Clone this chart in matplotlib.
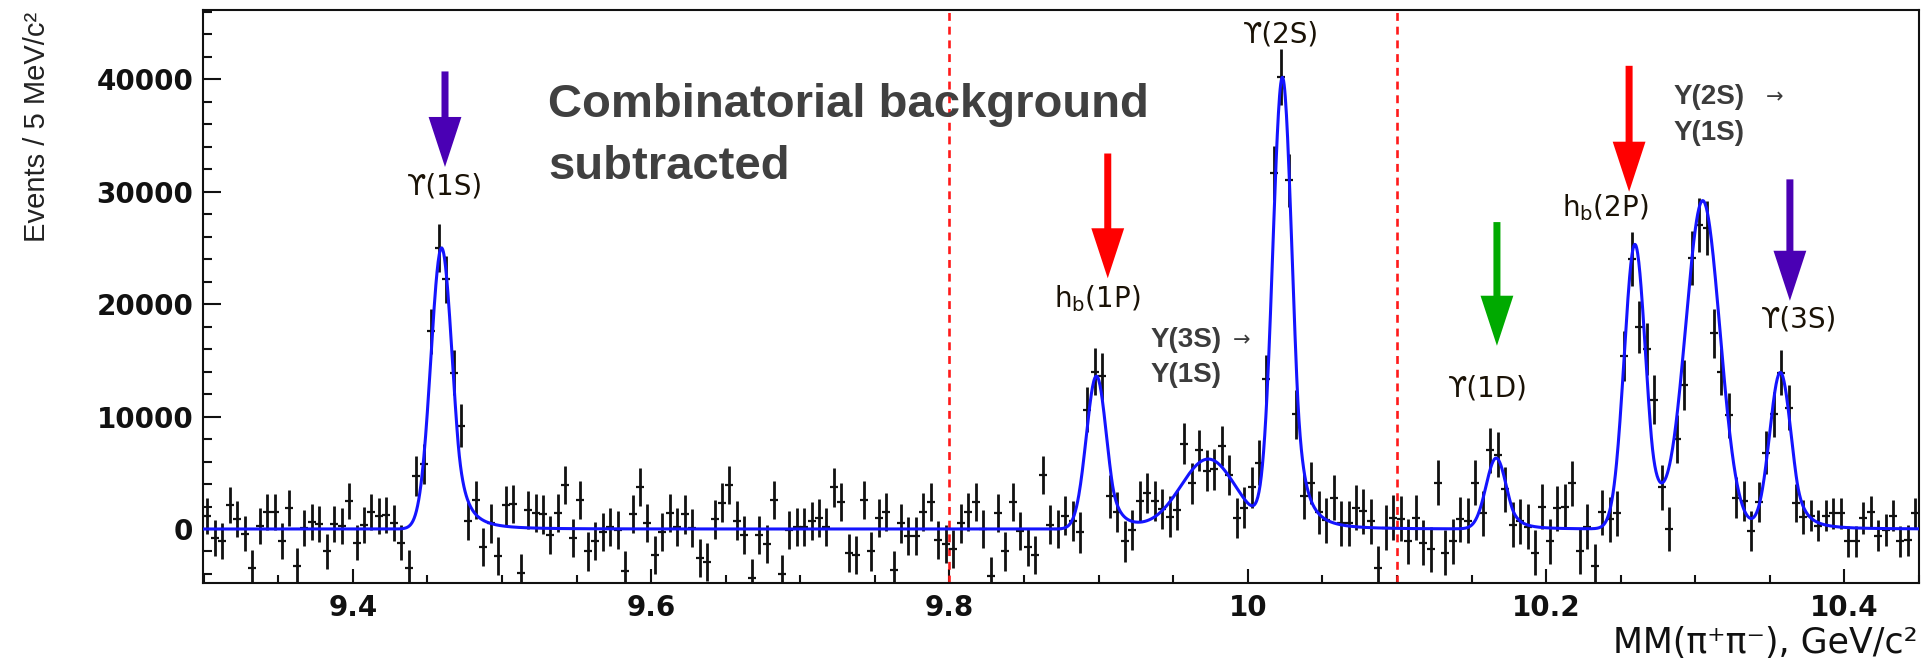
import numpy as np
import matplotlib
matplotlib.use("Agg")
import matplotlib.pyplot as plt
from matplotlib.patches import FancyArrow
from matplotlib.ticker import MultipleLocator, FuncFormatter

# histogram binning (5 MeV bins)
bin_lo, bin_hi, bin_width = 9.30, 10.45, 0.005

# events per bin (combinatorial background subtracted)
events = [
    1200, -800, -1100, 2100, 900, -400, -3500, 300, 1500, 1500,
    -1100, 1900, -3300, 100, 650, 450, -2000, 450, 300, 2500,
    -1200, 350, 1500, 1200, 1250, 500, -1200, -3500, 4700, 5800,
    17600, 25000, 22200, 13900, 9200, 700, 2600, -1600, 500, -2400,
    2100, 2200, -3900, 1700, 1400, 1300, -500, 1400, 3900, -800,
    2550, -2000, -1100, -300, 200, -100, -3700, 1350, 3750, 550,
    -2300, -250, 1400, 200, 1300, 100, -2600, -2950, 850, 2350,
    3900, 750, -500, -4400, -500, -1300, 2550, -4000, -100, 200,
    200, 700, 1000, 200, 3700, 2400, -2150, -2300, 2550, -2000,
    1000, 1500, -3650, 500, -650, -650, 1500, 2400, -1000, -1300,
    -1800, 500, 1500, 2400, 0, -4150, 1400, -2000, 2400, -200,
    -1600, -2300, 4800, 400, 0, 1200, 700, -300, 10600, 14000,
    13600, 2900, 1500, -1100, -100, 2500, 3200, 2500, 1800, 1100,
    1700, 7600, 4050, 7000, 5200, 5300, 7400, 4800, 1000, 1900,
    3700, 5900, 13300, 31700, 40200, 31000, 10200, 2900, 4100, 1500,
    800, 2800, 500, 500, 1900, 1600, 700, -3500, 100, 1000,
    900, -1100, 1000, -1200, -1800, 4100, -2100, -1100, 850, 750,
    4100, 1400, 7000, 6600, 3550, 400, 700, 200, -2100, 2000,
    -1100, 1850, 2000, 4050, -2000, 200, -3300, 1500, 850, 1400,
    15400, 24000, 18000, 16000, 11500, 3700, 0, 8000, 12800, 24100,
    27000, 26800, 17400, 14000, 10100, 2800, 2500, -200, 2400, 6800,
    10200, 13900, 10800, 2300, 1100, 1200, 300, 1200, 1400, 1400,
    -1100, -1100, 1000, 1500, -600, -100, 1200, -1100, -1000, 1400,
]

errors = [
    1600, 1600, 1600, 1600, 1600, 1600, 1600, 1600, 1600, 1600,
    1600, 1600, 1600, 1600, 1600, 1600, 1600, 1600, 1600, 1600,
    1600, 1600, 1600, 1600, 1600, 1600, 1600, 1600, 1800, 1800,
    2000, 2100, 2100, 2000, 1900, 1700, 1700, 1700, 1700, 1700,
    1700, 1700, 1700, 1700, 1700, 1700, 1700, 1700, 1700, 1700,
    1700, 1700, 1700, 1700, 1700, 1700, 1700, 1700, 1700, 1700,
    1700, 1700, 1700, 1700, 1700, 1700, 1700, 1700, 1700, 1700,
    1700, 1700, 1700, 1700, 1700, 1700, 1700, 1700, 1700, 1700,
    1700, 1700, 1700, 1700, 1700, 1700, 1700, 1700, 1700, 1700,
    1700, 1700, 1700, 1700, 1700, 1700, 1700, 1700, 1700, 1700,
    1700, 1700, 1700, 1700, 1700, 1700, 1700, 1700, 1700, 1700,
    1700, 1700, 1700, 1700, 1700, 1700, 1800, 1800, 2000, 2100,
    2100, 1900, 1800, 1800, 1800, 1800, 1800, 1800, 1800, 1800,
    1800, 1800, 1800, 1800, 1800, 1800, 1800, 1800, 1800, 1800,
    1800, 2000, 2200, 2400, 2500, 2400, 2200, 2000, 1900, 1900,
    2000, 2000, 2000, 2000, 2000, 2000, 2000, 2000, 2000, 2000,
    2000, 2000, 2000, 2000, 2000, 2000, 2000, 2000, 2000, 2000,
    2000, 2000, 2000, 2000, 2000, 2000, 2000, 2000, 2000, 2000,
    2000, 2000, 2000, 2000, 2000, 2000, 2000, 2000, 2000, 2000,
    2200, 2400, 2300, 2300, 2200, 2000, 2000, 2100, 2200, 2400,
    2400, 2400, 2200, 2100, 2000, 1800, 1800, 1800, 1800, 1900,
    2000, 2000, 2000, 1700, 1500, 1400, 1400, 1400, 1400, 1400,
    1400, 1400, 1400, 1400, 1400, 1400, 1400, 1400, 1400, 1400,
]

# fitted signal components: position, height, width, radiative tail or not
peak_mu = [9.4595, 9.8985, 9.9735, 10.0232, 10.1665, 10.2595, 10.3050, 10.3570]
peak_amp = [25000, 13600, 6200, 40000, 6300, 25300, 29000, 13900]
peak_sigma = [0.0072, 0.0068, 0.0185, 0.0065, 0.0068, 0.0072, 0.0115, 0.0072]
peak_tail = [True, True, False, True, True, True, False, True]

# peak labels (ROOT style) and arrows
labels = ["ϒ(1S)", r"h$_{\rm b}$(1P)", "ϒ(2S)", "ϒ(1D)", r"h$_{\rm b}$(2P)", "ϒ(3S)"]
label_x = [9.4618, 9.8990, 10.0225, 10.1611, 10.2395, 10.3697]
label_y = [30500, 20500, 44000, 12500, 28600, 18600]

arrow_x = [9.4618, 9.9061, 10.1670, 10.2556, 10.3634]
arrow_top = [40700, 33400, 27300, 41200, 31100]
arrow_tip = [32200, 22300, 16300, 30000, 20300]
arrow_col = ["#4a00b4", "#ff0000", "#00aa00", "#ff0000", "#4a00b4"]

# grey transition labels
trans_top = ["Υ(3S)", "Υ(2S)"]
trans_x = [9.9347, 10.2852]
trans_y1 = [16800, 38400]
trans_y2 = [13700, 35200]
trans_arrow_x = [9.9960, 10.3530]


def crystal_ball(m, amp, mu, sigma, alpha=1.5, n=3.0):
    t = (m - mu) / sigma
    out = np.exp(-0.5 * t ** 2)
    a = (n / alpha) ** n * np.exp(-0.5 * alpha ** 2)
    b = n / alpha - alpha
    tail = t > alpha
    out[tail] = a * (b + t[tail]) ** (-n)
    return amp * out


def gauss(m, amp, mu, sigma):
    return amp * np.exp(-0.5 * ((m - mu) / sigma) ** 2)


x = bin_lo + bin_width * (np.arange(len(events)) + 0.5)
y = np.array(events, dtype=float)
yerr = np.array(errors, dtype=float)

mm = np.linspace(bin_lo, bin_hi, 3000)
fit = np.zeros_like(mm)
for mu, amp, sig, has_tail in zip(peak_mu, peak_amp, peak_sigma, peak_tail):
    if has_tail:
        fit += crystal_ball(mm, amp, mu, sig)
    else:
        fit += gauss(mm, amp, mu, sig)

fig = plt.figure(figsize=(19.21, 6.63), dpi=100)
ax = fig.add_axes([0.1057, 0.1207, 0.8933, 0.8643])

ax.errorbar(x, y, yerr=yerr, fmt="none", ecolor="#111111", elinewidth=2.0, capsize=0, zorder=3)
ax.plot(x, y, ls="none", marker="_", ms=6, mew=1.6, color="#111111", zorder=3)
ax.plot(mm, fit, color="#1414ff", lw=2.2, zorder=4)

for xv in (9.8, 10.1):
    ax.axvline(xv, color="#ff1a1a", lw=1.9, ls=(0, (3, 2.2)), zorder=2)

ax.set_xlim(9.2996, 10.45)
ax.set_ylim(-4800, 46170)

ax.xaxis.set_major_locator(MultipleLocator(0.2))
ax.xaxis.set_minor_locator(MultipleLocator(0.05))
ax.yaxis.set_major_locator(MultipleLocator(10000))
ax.yaxis.set_minor_locator(MultipleLocator(2000))
ax.xaxis.set_major_formatter(FuncFormatter(lambda v, p: f"{v:g}"))
ax.yaxis.set_major_formatter(FuncFormatter(lambda v, p: f"{v:.0f}"))

ax.tick_params(axis="both", which="both", direction="in", top=False, right=False, width=1.5, colors="#111111")
ax.tick_params(axis="y", which="major", length=13, pad=7, labelsize=20)
ax.tick_params(axis="y", which="minor", length=6.5)
ax.tick_params(axis="x", which="major", length=10, pad=8, labelsize=20)
ax.tick_params(axis="x", which="minor", length=5.8)
for lab in ax.get_xticklabels() + ax.get_yticklabels():
    lab.set_fontweight("bold")
for s in ax.spines.values():
    s.set_linewidth(1.5)
    s.set_color("#111111")

fig.text(37 / 1921, 1 - 12 / 663, "Events / 5 MeV/c²", rotation=90, ha="center", va="top",
         fontsize=21, family=["Liberation Sans", "DejaVu Sans"], color="#222222")
fig.text(1918 / 1921, 1 - 653 / 663, "MM(π⁺π⁻), GeV/c²", ha="right", va="baseline",
         fontsize=25, color="#111111")

# arrows
for xa, yt, yb, c in zip(arrow_x, arrow_top, arrow_tip, arrow_col):
    ax.add_patch(FancyArrow(xa, yt, 0, yb - yt, width=0.0047, head_width=0.022,
                            head_length=4450, length_includes_head=True,
                            color=c, lw=0, zorder=5))

for txt, xl, yl in zip(labels, label_x, label_y):
    ax.text(xl, yl, txt, ha="center", va="center", fontsize=20, color="#1a1206", zorder=6)

for t, xl, y1, y2, xa in zip(trans_top, trans_x, trans_y1, trans_y2, trans_arrow_x):
    ax.text(xl, y1, t, ha="left", va="center", fontsize=20, weight="bold",
            family=["Liberation Sans", "DejaVu Sans"], color="#3c3c3c")
    ax.text(xl, y2, "Υ(1S)", ha="left", va="center", fontsize=20, weight="bold",
            family=["Liberation Sans", "DejaVu Sans"], color="#3c3c3c")
    ax.text(xa, y1, "→", ha="center", va="center", fontsize=15,
            family=["DejaVu Sans"], color="#3c3c3c")

ax.text(9.5309, 36650, "Combinatorial background", ha="left", va="baseline", fontsize=34,
        weight="bold", family=["Liberation Sans", "DejaVu Sans"], color="#404040", zorder=6)
ax.text(9.5309, 31150, "subtracted", ha="left", va="baseline", fontsize=34,
        weight="bold", family=["Liberation Sans", "DejaVu Sans"], color="#404040", zorder=6)

fig.savefig("out.png", dpi=100)
